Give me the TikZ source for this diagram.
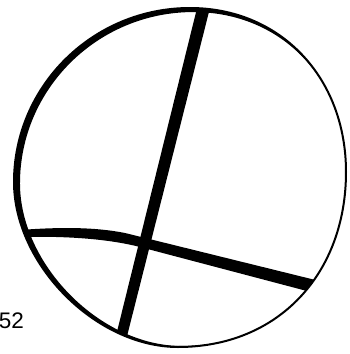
\documentclass[tikz,border=0pt]{standalone}
\usepackage{fontspec}
\setmainfont{Liberation Sans}
\begin{document}
\begin{tikzpicture}[x=1pt,y=-1pt,
  ring/.style={line width=#1,line join=round,line cap=round},
  barfill/.style={fill=black}]
\useasboundingbox (0,0) rectangle (350,354);
\def\ringpath{(190,8) .. controls (93,8) and (14,86) .. (14,182)
  .. controls (14,264.5) and (96,347) .. (178,347)
  .. controls (279,347) and (346,273) .. (346,172)
  .. controls (346,77) and (280,8) .. (190,8) -- cycle}
\begin{scope}
  \clip \ringpath;
  % vertical bar
  \fill[barfill] (201.5,-10) -- (214.5,-10) -- (121,360) -- (110,360) -- cycle;
  % horizontal bar
  \fill[barfill] (0,230.5) -- (20,230) .. controls (60,227) and (95,227) .. (125,233) -- (360,291)
     -- (360,305) -- (140,247) .. controls (105,238) and (60,236) .. (20,237) -- (0,237.5) -- cycle;
  % thicker left side of the ring
  \begin{scope}[shift={(3.5,1.5)},shift={(180,178)},scale=0.985,shift={(-180,-178)}]
    \fill[even odd rule] (-200,-200) rectangle (600,600) \ringpath;
  \end{scope}
\end{scope}
\draw[ring=2pt] \ringpath;
\node[anchor=base east,inner sep=0pt,font=\fontsize{22.5}{26}\selectfont] (lbl) at (24,328) {52};
\end{tikzpicture}
\end{document}
